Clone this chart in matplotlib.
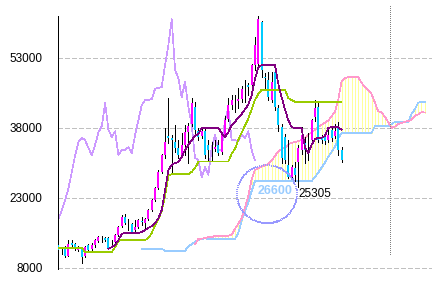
import matplotlib
matplotlib.use("Agg")
import matplotlib.pyplot as plt
from matplotlib.patches import Ellipse
import numpy as np

# ---------------- data ----------------
opens = [12900, 11800, 12500, 10600, 13300, 13100, 11900, 12300, 10600, 12900,
         12100, 12900, 13800, 14300, 14400, 14400, 13000, 13600, 15100, 17000,
         19000, 17600, 17400, 16100, 16800, 18000, 17600, 18500, 20400, 22600,
         25100, 28600, 32200, 36200, 35900, 35000, 33700, 32200, 34400, 37100,
         38800, 42500, 37300, 36300, 37300, 34300, 33300, 33400, 34300, 32900,
         36500, 40000, 43000, 44000, 43800, 44200, 46600, 47300, 47300, 51500,
         51800, 60700, 48900, 48300, 44000, 50000, 42300, 38200, 36100, 30000,
         27500, 29500, 30700, 33300, 34800, 33500, 35400, 40300, 42500, 36100,
         36000, 35400, 37500, 36200, 38000, 33300]
highs = [13300, 12300, 12700, 14000, 14000, 13300, 12700, 12500, 12700, 13100,
         13300, 14200, 14800, 14900, 14700, 14600, 14000, 15300, 17000, 19300,
         19500, 18400, 17700, 18300, 18500, 18900, 18800, 20700, 22800, 25400,
         28900, 32500, 38000, 44400, 36500, 38600, 35500, 37000, 38600, 39100,
         44500, 43600, 38000, 37800, 38000, 35400, 35000, 35400, 35400, 36700,
         40500, 44400, 45000, 45000, 46600, 47000, 48300, 47600, 51800, 57500,
         61900, 61000, 49800, 50000, 50000, 50500, 43000, 38800, 36700, 35400,
         30000, 30700, 34300, 38200, 36000, 36900, 40000, 44000, 43600, 36500,
         37000, 38000, 38500, 38900, 39200, 34000]
lows = [11400, 11100, 10300, 10500, 12500, 11800, 11700, 9100, 10400, 11700,
        11900, 12500, 13600, 13600, 13700, 12100, 12500, 13300, 14900, 16800,
        17400, 16200, 15400, 16000, 16500, 17200, 16200, 18300, 20200, 22400,
        24900, 28300, 31500, 34800, 28400, 32800, 31500, 32000, 32200, 30500,
        38500, 37000, 35500, 35800, 31500, 31100, 31000, 33000, 32300, 32500,
        36300, 39600, 42000, 41400, 42300, 43600, 43500, 45000, 47000, 50500,
        51000, 49000, 46100, 44000, 43600, 41900, 37300, 30500, 30500, 27300,
        27000, 26600, 25305, 32500, 30500, 31100, 34500, 39500, 35000, 34800,
        34500, 35000, 35300, 35800, 32300, 30800]
closes = [11860, 11800, 10600, 13100, 12900, 12100, 12500, 10400, 12500, 11900,
          12900, 14000, 14600, 14300, 14000, 12300, 13000, 15000, 16800, 19000,
          17700, 17600, 15700, 16800, 18200, 17800, 18500, 20400, 22600, 25100,
          28600, 32200, 35000, 35900, 35400, 33700, 32200, 34400, 37100, 38400,
          43400, 37600, 36100, 37300, 32200, 33300, 33300, 33900, 32600, 36500,
          39700, 42900, 44000, 44000, 44200, 46400, 46600, 46800, 51500, 55800,
          61300, 50500, 48700, 44600, 47900, 42500, 38600, 31600, 31100, 27500,
          29600, 28000, 33700, 36500, 33300, 33400, 39700, 42300, 35400, 35400,
          35200, 36500, 35900, 37300, 33300, 31100]

tenkan_start = 15
tenkan = [12100, 12500, 12900, 14000, 15300, 15500, 15500, 15500, 15500, 15500,
          15700, 16100, 16600, 17000, 17600, 18700, 20400, 24700, 29000, 30100,
          30500, 30700, 31800, 33300, 34400, 35400, 36300, 36700, 38000, 38000,
          38000, 38000, 38000, 38000, 36900, 36100, 37100, 38600, 39300, 40300,
          41000, 42000, 43000, 45000, 48500, 51000, 51500, 51500, 51500, 51500,
          51500, 47500, 44600, 42000, 39700, 38200, 38000, 38000, 38000, 33900,
          32600, 34400, 35600, 35900, 35900, 36300, 38000, 38200, 38200, 38200,
          37600]

kijun_start = 0
kijun = [12300, 12300, 12300, 12300, 12300, 12300, 12300, 12300, 11400, 11400,
         11400, 11400, 11400, 11400, 11400, 11400, 11400, 12500, 13800, 14000,
         14000, 14000, 14000, 14000, 14000, 14000, 14000, 14400, 15500, 17200,
         18500, 20200, 23500, 27800, 28100, 28100, 28100, 28100, 28100, 28100,
         28600, 29400, 30800, 30800, 30800, 30800, 30800, 30800, 30800, 30800,
         30800, 30800, 32500, 33500, 35500, 37000, 38500, 40000, 42000, 44000,
         45300, 46200, 46200, 46200, 46200, 46200, 46200, 46200, 46200, 44400,
         44000, 43600, 43600, 43600, 43600, 43600, 43600, 43600, 43600, 43600,
         43600, 43600, 43600, 43600, 43600, 43600]

senkou_a_start = 41
senkou_a = [13100, 14200, 14300, 14400, 14600, 14600, 14900, 14900, 14900, 14900,
            14900, 15100, 16400, 17500, 18700, 20900, 23500, 27000, 29000, 29400,
            29700, 30000, 30300, 31000, 32000, 33000, 33500, 33700, 34500, 34800,
            35000, 35200, 35400, 35800, 36500, 37100, 37600, 38200, 38700, 39100,
            39600, 40500, 41500, 44000, 48000, 48700, 48900, 48900, 48900, 48900,
            47700, 46800, 46100, 45300, 43500, 41600, 41400, 40400, 39300, 38000,
            38300, 38800, 39100, 39300, 39500, 39700, 40600, 40900, 41400, 41300]

senkou_b_start = 25
senkou_b = [12100, 12100, 12100, 12100, 12100, 12100, 12100, 11700, 11700, 11700,
            11700, 11700, 11700, 11700, 12600, 13100, 13600, 14000, 14200, 14400,
            14200, 14200, 14200, 14200, 14200, 14200, 14200, 14200, 14200, 15500,
            18100, 20200, 22000, 24500, 26600, 26600, 26600, 26600, 26600, 26600,
            26600, 26600, 26600, 26600, 26600, 26600, 26600, 26600, 26600, 26600,
            26600, 26600, 27500, 28400, 29500, 30600, 31800, 32900, 33900, 35800,
            36900, 36900, 36900, 36900, 36900, 36900, 36900, 36900, 36900, 36900,
            38400, 38400, 38400, 38400, 38400, 38800, 39300, 39300, 39300, 39300,
            39300, 41000, 42000, 43400, 43600, 43600]

chikou_shift = 26
y_ticks = [8000, 23000, 38000, 53000]
y_tick_labels = ["8000", "23000", "38000", "53000"]
cloud_value = 26600
cloud_label = "26600"
low_value = 25305
low_label = "25305"
marker_bar = 99.55

# ---------------- figure ----------------
plt.rcParams['lines.antialiased'] = False
plt.rcParams['patch.antialiased'] = False
FONT = ['Liberation Sans', 'DejaVu Sans']
LW = 0.5

fig = plt.figure(figsize=(4.32, 2.82), dpi=100)
ax = fig.add_axes([58 / 432, (282 - 269) / 282, 374 / 432, 253 / 282])
px_x = 3.33            # pixels per bar
px_y = 15000 / 70      # value per pixel
ax.set_xlim(-0.15, -0.15 + 374 / px_x)
ax.set_ylim(8000 - px_y, 62000)

for s in ['top', 'right', 'bottom']:
    ax.spines[s].set_visible(False)
ax.spines['left'].set_linewidth(0.72)
ax.spines['left'].set_color('black')
ax.set_xticks([])
ax.set_yticks(y_ticks)
ax.set_yticklabels(y_tick_labels, fontfamily=FONT, fontsize=8.5)
ax.tick_params(axis='y', length=0, pad=11)
ax.yaxis.grid(True, color='#c0c0c0', linestyle=(0, (6, 3)), linewidth=LW)
ax.set_axisbelow(True)

o = np.array(opens, float); h = np.array(highs, float)
l = np.array(lows, float); c = np.array(closes, float)
idx = np.arange(len(c))

sa = np.array(senkou_a, float); sb = np.array(senkou_b, float)
ka = np.arange(len(sa)) + senkou_a_start
kb = np.arange(len(sb)) + senkou_b_start

# cloud hatch (vertical yellow lines)
b_on_a = sb[senkou_a_start - senkou_b_start:]
ax.vlines(ka, np.minimum(sa, b_on_a), np.maximum(sa, b_on_a),
          color='#ffff99', linewidth=LW, zorder=1)

ax.plot(kb, sb, color='#99ccff', linewidth=LW, zorder=2)
ax.plot(ka, sa, color='#ff99cc', linewidth=LW, zorder=2)

# chikou span
ax.plot(idx[chikou_shift:] - chikou_shift, c[chikou_shift:], color='#cc99ff',
        linewidth=LW, zorder=2)

# candles
ax.vlines(idx, l, h, color='black', linewidth=LW, zorder=3)
up = c > o
dn = c < o
ax.bar(idx[up], (c - o)[up], bottom=o[up], width=0.6, color='#ff00ff',
       linewidth=0, zorder=4)
ax.bar(idx[dn], (o - c)[dn], bottom=c[dn], width=0.6, color='#00ccff',
       linewidth=0, zorder=4)

# tenkan / kijun
ax.plot(np.arange(len(kijun)) + kijun_start, kijun, color='#99cc00',
        linewidth=LW, zorder=5)
ax.plot(np.arange(len(tenkan)) + tenkan_start, tenkan, color='#800080',
        linewidth=LW, zorder=5)

# annotations
low_bar = lows.index(low_value)
ax.text(low_bar + 0.2, low_value - 1.0 * px_y, low_label, ha='left', va='top',
        fontfamily=FONT, fontsize=8.5, color='black', zorder=6)
ax.text(65.0, cloud_value - 10 * px_y, cloud_label, ha='center', va='center',
        fontfamily=FONT, fontsize=9, fontweight='bold', color='#99ccff', zorder=6)
ax.add_patch(Ellipse((62.6, cloud_value - 13 * px_y), width=60 / px_x,
                     height=58 * px_y, fill=False, edgecolor='#9999ff',
                     linestyle=(0, (1.4, 2.8)), linewidth=LW, zorder=6))
# dotted vertical marker line (one pixel dot every two pixels)
dot_y = np.arange(8000 + 13 * px_y, 62000 + 11 * px_y, 2 * px_y)
ax.plot(np.full(dot_y.shape, marker_bar), dot_y, linestyle='none', marker=',',
        color='#808080', clip_on=False, zorder=6)

fig.savefig('out.png', dpi=100)
